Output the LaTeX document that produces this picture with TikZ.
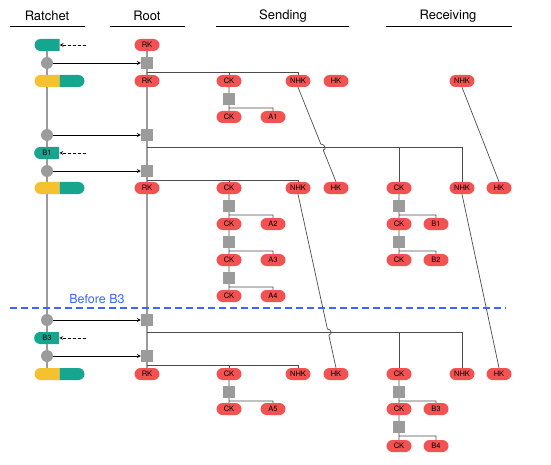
\documentclass[tikz,border=0pt]{standalone}
\usepackage{fontspec}
\setmainfont{TeX Gyre Heros}
\usetikzlibrary{shapes.misc,backgrounds}
\definecolor{keyred}{RGB}{243,82,82}
\definecolor{chteal}{RGB}{22,166,143}
\definecolor{chyellow}{RGB}{246,193,46}
\definecolor{kdfgray}{RGB}{155,155,155}
\definecolor{cutblue}{RGB}{60,100,255}
\begin{document}
\begin{tikzpicture}[x=1pt, y=-1pt, >=stealth, line join=round,
	pill/.style={rounded rectangle, minimum width=25pt, minimum height=12pt, inner sep=0pt, font=\fontsize{7.5}{8}\selectfont},
	key/.style={pill, fill=keyred},
	chainkey/.style={pill, fill=chteal, rounded rectangle right arc=none},
	rootleft/.style={pill, fill=chyellow, rounded rectangle right arc=none},
	rootright/.style={pill, fill=chteal, rounded rectangle left arc=none},
	kdf/.style={fill=kdfgray, minimum size=12pt, inner sep=0pt},
	dhdot/.style={circle, fill=kdfgray, minimum size=12pt, inner sep=0pt},
	head/.style={font=\fontsize{13}{15}\selectfont},
	trunk/.style={draw=kdfgray, line width=1.5pt},
	branch/.style={draw=black!70, line width=0.7pt}]
	\useasboundingbox (0,0) rectangle (551,465);
	% headers
	\node[head] (hR) at (47,16) {Ratchet};
	\node[head] (hT) at (147,16) {Root};
	\node[head] (hS) at (283,16) {Sending};
	\node[head] (hV) at (448,16) {Receiving};
	\draw[line width=1pt] (10,27)--(85,27) (110,27)--(185,27) (216,27)--(349,27) (386,27)--(512,27);
	% ratchet
	\node[chainkey] (ch0) at (47,45) {};
	\node[dhdot] (c1) at (47,63) {};
	\node[rootleft] (ry1) at (47,81) {};
	\node[rootright] (rt1) at (72,81) {};
	\node[dhdot] (c2) at (47,135) {};
	\node[chainkey] (ch1) at (47,153) {B1};
	\node[dhdot] (c3) at (47,171) {};
	\node[rootleft] (ry2) at (47,188) {};
	\node[rootright] (rt2) at (72,188) {};
	\node[dhdot] (c4) at (47,320) {};
	\node[chainkey] (ch2) at (47,338) {B3};
	\node[dhdot] (c5) at (47,356) {};
	\node[rootleft] (ry3) at (47,374) {};
	\node[rootright] (rt3) at (72,374) {};
	\coordinate (d0) at (86,45);
	\coordinate (d1) at (86,153);
	\coordinate (d2) at (86,338);
	% root
	\node[key] (rk0) at (147,45) {RK};
	\node[kdf] (s1) at (147,63) {};
	\node[key] (rk1) at (147,81) {RK};
	\node[kdf] (s2) at (147,135) {};
	\node[kdf] (s3) at (147,171) {};
	\node[key] (rk2) at (147,188) {RK};
	\node[kdf] (s4) at (147,320) {};
	\node[kdf] (s5) at (147,356) {};
	\node[key] (rk3) at (147,374) {RK};
	\coordinate (b1) at (147,72);
	\coordinate (b2) at (147,147);
	\coordinate (b3) at (147,180);
	\coordinate (b4) at (147,332);
	\coordinate (b5) at (147,365);
	% sending
	\node[key] (sck1) at (229,81) {CK};
	\node[key] (snhk1) at (298,81) {NHK};
	\node[key] (shk1) at (336,81) {HK};
	\node[kdf] (sq11) at (229,99) {};
	\node[key] (sck11) at (229,117) {CK};
	\node[key] (a1) at (273,117) {A1};
	\node[key] (sck2) at (229,188) {CK};
	\node[key] (snhk2) at (298,188) {NHK};
	\node[key] (shk2) at (336,188) {HK};
	\node[kdf] (sq21) at (229,206) {};
	\node[key] (sck21) at (229,224) {CK};
	\node[key] (a2) at (273,224) {A2};
	\node[kdf] (sq22) at (229,242) {};
	\node[key] (sck22) at (229,260) {CK};
	\node[key] (a3) at (273,260) {A3};
	\node[kdf] (sq23) at (229,278) {};
	\node[key] (sck23) at (229,296) {CK};
	\node[key] (a4) at (273,296) {A4};
	\node[key] (sck3) at (229,374) {CK};
	\node[key] (snhk3) at (298,374) {NHK};
	\node[key] (shk3) at (336,374) {HK};
	\node[kdf] (sq31) at (229,392) {};
	\node[key] (sck31) at (229,409) {CK};
	\node[key] (a5) at (273,409) {A5};
	% receiving
	\node[key] (rnhk1) at (462,81) {NHK};
	\node[key] (rck2) at (399,188) {CK};
	\node[key] (rnhk2) at (462,188) {NHK};
	\node[key] (rhk2) at (499,188) {HK};
	\node[kdf] (rq21) at (399,206) {};
	\node[key] (rck21) at (399,224) {CK};
	\node[key] (rb1) at (436,224) {B1};
	\node[kdf] (rq22) at (399,242) {};
	\node[key] (rck22) at (399,260) {CK};
	\node[key] (rb2) at (436,260) {B2};
	\node[key] (rck3) at (399,374) {CK};
	\node[key] (rnhk3) at (462,374) {NHK};
	\node[key] (rhk3) at (499,374) {HK};
	\node[kdf] (rq31) at (399,392) {};
	\node[key] (rck31) at (399,409) {CK};
	\node[key] (rb3) at (436,409) {B3};
	\node[kdf] (rq32) at (399,427) {};
	\node[key] (rck32) at (399,446) {CK};
	\node[key] (rb4) at (436,446) {B4};
	% jumps
	\coordinate (jA1) at (320.8,144);
	\coordinate (jA2) at (323.2,150);
	\coordinate (jB1) at (327.4,329);
	\coordinate (jB2) at (328.8,335);
	% cut
	\draw[cutblue, dashed, dash pattern=on 7pt off 4pt, line width=1.2pt] (10,308)--(506,308);
	\node[head, font=\fontsize{12.5}{14}\selectfont, text=cutblue] (cut) at (97,299) {Before B3};
	% arrows
	\draw[->, line width=0.7pt] (c1)--(s1);
	\draw[->, line width=0.7pt] (c2)--(s2);
	\draw[->, line width=0.7pt] (c3)--(s3);
	\draw[->, line width=0.7pt] (c4)--(s4);
	\draw[->, line width=0.7pt] (c5)--(s5);
	\draw[->, dashed, dash pattern=on 3pt off 2pt, line width=0.7pt] (d0)--(ch0.east);
	\draw[->, dashed, dash pattern=on 3pt off 2pt, line width=0.7pt] (d1)--(ch1.east);
	\draw[->, dashed, dash pattern=on 3pt off 2pt, line width=0.7pt] (d2)--(ch2.east);
	\begin{scope}[on background layer]
		\draw[trunk] (ch0.center)--(ry3.center);
		\draw[trunk] (rk0.center)--(rk3.center);
		\draw[branch] (b1) -| (snhk1.north) (b1 -| sck1) -- (sck1.north);
		\draw[branch] (b2) -| (rnhk2.north) (b2 -| rck2) -- (rck2.north);
		\draw[branch] (b3) -| (snhk2.north) (b3 -| sck2) -- (sck2.north);
		\draw[branch] (b4) -| (rnhk3.north) (b4 -| rck3) -- (rck3.north);
		\draw[branch] (b5) -| (snhk3.north) (b5 -| sck3) -- (sck3.north);
		\draw[branch] (sck1)--(sck11) (sq11.center) ++(0,9) -| (a1.north);
		\draw[branch] (sck2)--(sck23) (sq21.center) ++(0,9) -| (a2.north) (sq22.center) ++(0,9) -| (a3.north) (sq23.center) ++(0,9) -| (a4.north);
		\draw[branch] (sck3)--(sck31) (sq31.center) ++(0,9) -| (a5.north);
		\draw[branch] (rck2)--(rck22) (rq21.center) ++(0,9) -| (rb1.north) (rq22.center) ++(0,9) -| (rb2.north);
		\draw[branch] (rck3)--(rck32) (rq31.center) ++(0,9) -| (rb3.north) (rq32.center) ++(0,9) -| (rb4.north);
		\draw[branch] (snhk1.south)--(jA1) .. controls +(4,0) and +(4,0) .. (jA2)--(shk2.north);
		\draw[branch] (snhk2.south)--(jB1) .. controls +(4,0) and +(4,0) .. (jB2)--(shk3.north);
		\draw[branch] (rnhk1.south)--(rhk2.north);
		\draw[branch] (rnhk2.south)--(rhk3.north);
	\end{scope}
\end{tikzpicture}
\end{document}
